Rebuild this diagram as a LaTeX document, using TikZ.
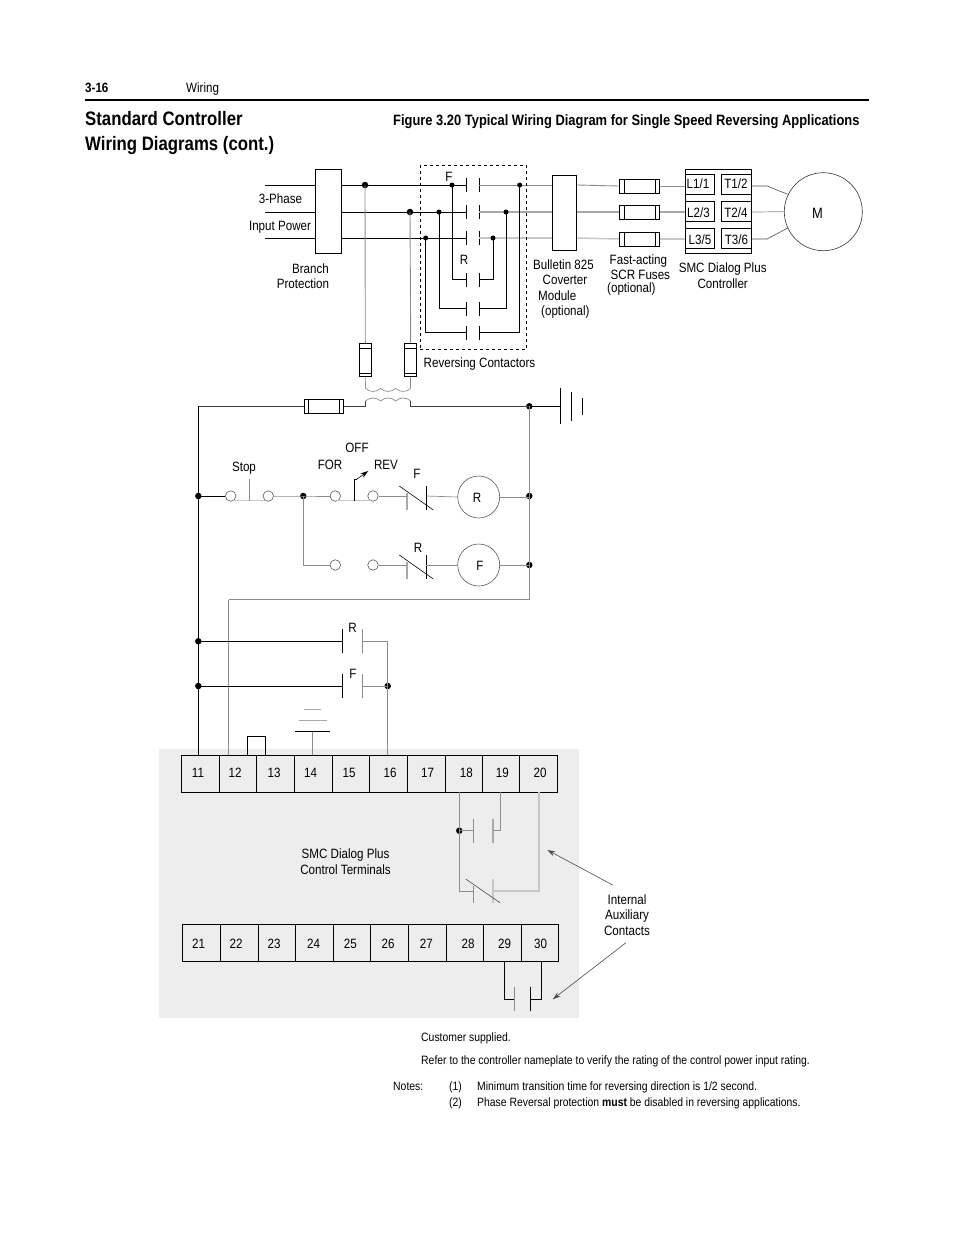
\documentclass[tikz,border=0pt]{standalone}
\usepackage{fontspec}
\setmainfont{Liberation Sans}[FakeStretch=0.86]
\usetikzlibrary{arrows.meta}
\definecolor{wirea}{gray}{0.55}
\definecolor{wireb}{gray}{0.66}
\definecolor{wirec}{gray}{0.78}
\definecolor{panel}{gray}{0.93}
\begin{document}
\begin{tikzpicture}[x=1pt,y=-1pt,line cap=butt,line join=miter,>={Stealth[length=8pt,width=5pt]},
	lbl/.style={inner sep=0pt,yshift=-.8pt,font=\fontsize{13.5}{15.5}\selectfont},
	lbc/.style={lbl,align=center},
	num/.style={inner sep=0pt,anchor=base,font=\fontsize{13.5}{15.5}\selectfont},
	small/.style={inner sep=0pt,anchor=base west,font=\fontsize{12.1}{14}\selectfont},
	dot/.style={circle,fill=black,inner sep=0pt,minimum size=6.5pt},
	box/.style={draw=black,line width=.9pt,inner sep=0pt,fill=white},
	coil/.style={circle,draw=black!65,line width=.6pt,minimum size=42pt,inner sep=0pt,fill=white},
	term/.style={circle,draw=black!65,line width=.6pt,minimum size=10.5pt,inner sep=0pt,fill=white},
	blk/.style={line width=.9pt,black},
	gra/.style={line width=.9pt,wirea},
	grb/.style={line width=1.2pt,wireb},
	grc/.style={line width=1.5pt,wirec},
	thin/.style={line width=.6pt,black!70}]
	\useasboundingbox (0,0) rectangle (954,1235);
	\fill[panel] (159,749) rectangle (579,1018);
	% page head
	\node[small,font=\fontsize{13.5}{15}\selectfont\bfseries] (page) at (85,92.5) {3-16};
	\node[small,font=\fontsize{13.5}{15}\selectfont] (chap) at (186,92.5) {Wiring};
	\draw[line width=1.6pt] (85,100) -- (869,100);
	\node[inner sep=0pt,anchor=base west,font=\fontsize{19.5}{24}\selectfont\bfseries] (titlea) at (85,125) {Standard Controller};
	\node[inner sep=0pt,anchor=base west,font=\fontsize{19.5}{24}\selectfont\bfseries] (titleb) at (85,150) {Wiring Diagrams (cont.)};
	\node[inner sep=0pt,anchor=base west,font=\fontsize{15}{17}\selectfont\bfseries] (fig) at (393,125) {Figure 3.20 Typical Wiring Diagram for Single Speed Reversing Applications};
	% power part
	\coordinate (in1) at (265,185);
	\coordinate (in2) at (265,212);
	\coordinate (in3) at (265,238);
	\node[box,minimum width=26.5pt,minimum height=84pt] (branch) at (328.5,211.3) {};
	\node[box,minimum width=24.5pt,minimum height=74.7pt] (module) at (564.5,212.6) {};
	\foreach \k/\y in {1/185,2/212,3/238}{
		\coordinate (cfa\k) at (466.7,\y);
		\coordinate (cfb\k) at (479.3,\y);
		\coordinate (mod\k) at (module.west |- cfa\k);
		\coordinate (bra\k) at (branch.east |- cfa\k);
		\coordinate (brb\k) at (branch.west |- cfa\k);
		\draw[blk] (in\k) -- (brb\k);
		\draw[blk] (bra\k) -- (cfa\k);
	}
	\foreach \k/\y in {1/279.5,2/308.5,3/332.5}{
		\coordinate (cra\k) at (466.7,\y);
		\coordinate (crb\k) at (479.3,\y);
	}
	\foreach \n in {cfa1,cfb1,cfa2,cfb2,cfa3,cfb3,cra1,crb1,cra2,crb2,cra3,crb3}{
		\draw[blk] ([yshift=-7pt]\n) -- ([yshift=7pt]\n);
	}
	\draw[gra] (cfb1) -- (mod1);
	\draw[grb] (cfb2) -- (mod2);
	\draw[grc] (cfb3) -- (mod3);
	\node[dot] (ja) at (365,185) {};
	\node[dot] (jb) at (410,212) {};
	\node[dot,minimum size=5pt] (fa) at (452,185) {};
	\node[dot,minimum size=5pt] (fb) at (439,212) {};
	\node[dot,minimum size=5pt] (fc) at (425.7,238) {};
	\node[dot,minimum size=5pt] (ra) at (519.7,185) {};
	\node[dot,minimum size=5pt] (rb) at (506,212) {};
	\node[dot,minimum size=5pt] (rc) at (493,238) {};
	\draw[blk] (fa.center) |- (cra1);
	\draw[blk] (fb.center) |- (cra2);
	\draw[blk] (fc.center) |- (cra3);
	\draw[blk] (rc.center) |- (crb1);
	\draw[blk] (rb.center) |- (crb2);
	\draw[blk] (ra.center) |- (crb3);
	\node[draw=black,dashed,line width=.6pt,inner sep=0pt,minimum width=106.4pt,minimum height=184pt] (rev) at (473.5,257.3) {};
	\node[lbl] (lf) at (449,176) {F};
	\node[lbl] (lr) at (464,259) {R};
	% fuses to the transformer
	\node[box,minimum width=12pt,minimum height=33.4pt] (fusa) at (365.3,360) {};
	\node[box,minimum width=12pt,minimum height=33.4pt] (fusb) at (410.7,360) {};
	\foreach \n in {fusa,fusb}{
		\draw[line width=.7pt] ([yshift=-5pt]\n.north west) -- ([yshift=-5pt]\n.north east);
		\draw[line width=.7pt] ([yshift=4pt]\n.south west) -- ([yshift=4pt]\n.south east);
	}
	\draw[gra] (ja.center) -- (fusa.north);
	\draw[gra] (jb.center) -- (fusb.north);
	\coordinate (ca) at (365.5,388.3);
	\coordinate (cb) at (410.7,388.3);
	\draw[gra,line width=.7pt] (fusa.south) -- (ca);
	\draw[gra,line width=.7pt] (fusb.south) -- (cb);
	\foreach \x in {365.5,380.6,395.6}{
		\draw[gra,line width=.7pt] (\x,388.3) .. controls (\x+4,392.5) and (\x+11,392.5) .. (\x+15.1,388.3);
		\draw[gra,line width=.7pt] (\x,401) .. controls (\x+4,397) and (\x+11,397) .. (\x+15.1,401);
	}
	\coordinate (left) at (198.3,406.3);
	\node[box,minimum width=39.7pt,minimum height=14pt] (fusc) at (323.8,406.3) {};
	\draw[line width=.7pt] ([xshift=5pt]fusc.north west) -- ([xshift=5pt]fusc.south west);
	\draw[line width=.7pt] ([xshift=-5pt]fusc.north east) -- ([xshift=-5pt]fusc.south east);
	\coordinate (cc) at (365.5,401);
	\coordinate (cd) at (410.7,401);
	\node[dot] (jr) at (529.3,406.3) {};
	\coordinate (gnd) at (560.3,406.3);
	\draw[line width=.7pt,black!75] (left) -- (fusc.west);
	\draw[line width=.7pt,black!75] (fusc.east) -| (cc);
	\draw[line width=.7pt,black!75] (cd) |- (jr.center);
	\draw[blk,line width=.8pt] (jr.center) -- (gnd);
	\draw[line width=.8pt] (560.3,388) -- (560.3,424);
	\draw[line width=.8pt] (571.3,392) -- (571.3,421);
	\draw[line width=.8pt] (582.3,398) -- (582.3,415);
	% labels power part
	\node[lbl] (l3p) at (280.5,198) {3-Phase};
	\node[lbl] (lin) at (280,226) {Input Power};
	\node[lbc,align=center] (lbp) at (303,275.5) {\hspace*{15pt}Branch\\Protection};
	\node[lbl] (lrc) at (479.5,363.5) {Reversing Contactors};
	\node[lbl,anchor=west] (b1) at (533,263.5) {Bulletin 825};
	\node[lbl,anchor=west] (b2) at (542.5,279) {Coverter};
	\node[lbl,anchor=west] (b3) at (538,295) {Module};
	\node[lbl,anchor=west] (b4) at (541,311) {(optional)};
	\node[lbl,anchor=west] (s1) at (609.5,260) {Fast-acting};
	\node[lbl,anchor=west] (s2) at (610.5,274) {SCR Fuses};
	\node[lbl,anchor=west] (s3) at (607,288) {(optional)};
	\node[lbc] (lsm) at (722.7,275) {SMC Dialog Plus\\Controller};
	% SCR fuses and controller
	\node[box,minimum width=66.4pt,minimum height=84pt] (smc) at (718.5,211.3) {};
	\foreach \k/\y/\ym/\ya/\yb in {1/185/186/174/194.7,2/212/212/201/221.7,3/238/239/228.3/248.3}{
		\node[box,minimum width=40.4pt,minimum height=14pt] (scr\k) at (639.5,\ym) {};
		\draw[line width=.7pt] ([xshift=5.4pt]scr\k.north west) -- ([xshift=5.4pt]scr\k.south west);
		\draw[line width=.7pt] ([xshift=-5pt]scr\k.north east) -- ([xshift=-5pt]scr\k.south east);
		\draw[line width=.8pt] (685.3,\ya) -| (714.7,\yb) -- (685.3,\yb);
		\draw[line width=.8pt] (751.7,\ya) -| (721.3,\yb) -- (751.7,\yb);
		\coordinate (lin\k) at (smc.west |- scr\k);
		\coordinate (tin\k) at (smc.east |- scr\k);
	}
	\draw[gra] (mod1 -| module.east) -- (scr1.west);
	\draw[grb] (mod2 -| module.east) -- (scr2.west);
	\draw[grc] (mod3 -| module.east) -- (scr3.west);
	\draw[gra] (scr1.east) -- (lin1);
	\draw[grb] (scr2.east) -- (lin2);
	\draw[grc] (scr3.east) -- (lin3);
	\node[circle,draw=black!80,line width=.6pt,minimum size=78pt,inner sep=0pt] (mot) at (823.3,211.7) {};
	\node[lbl,font=\fontsize{15}{17}\selectfont] (lm) at (817.5,212.5) {M};
	\draw[thin] (tin1) -- +(15,0) -- (787.7,194.3);
	\draw[gra,line width=.7pt] (tin2) -- (mot.west);
	\draw[thin] (tin3) -- +(15,0) -- (787.7,228);
	\foreach \t/\x/\y/\nm in {{L1/1}/698/183.3/tla,{T1/2}/736/183.3/tra,{L2/3}/698.5/211.5/tlb,{T2/4}/736/211.5/trb,{L3/5}/700/239/tlc,{T3/6}/736.5/239/trc}{
		\node[lbl] (\nm) at (\x,\y) {\t};
	}
	% control part
	\node[dot] (jl) at (198.3,496) {};
	\node[dot] (jrb) at (529.3,496) {};
	\node[dot] (jrc) at (529.3,565) {};
	\node[dot] (jm) at (303.3,496) {};
	\coordinate (jg) at (529.3,599.5);
	\coordinate (cg) at (228.7,599.5);
	\draw[blk] (left) -- (jl.center);
	\draw[gra] (jr.center) -- (jg);
	\draw[gra] (jg) -- (cg);
	\node[term] (sa) at (230.7,496) {};
	\node[term] (sb) at (268.3,496) {};
	\node[term] (fw) at (335.3,496) {};
	\node[term] (rv) at (373,496) {};
	\node[term] (fx) at (335.3,565) {};
	\node[term] (rx) at (373,565) {};
	\node[coil] (cr) at (478.7,497) {};
	\node[coil] (cf) at (478.7,565) {};
	\node[lbl] (lcr) at (477,497) {R};
	\node[lbl] (lcf) at (480,565) {F};
	\foreach \n/\y/\s/\c in {nca/496/F/cr,ncb/565/R/cf}{
		\coordinate (\n a) at (407,\y);
		\coordinate (\n b) at (426.3,\y);
		\draw[grb] ([yshift=3pt]\n a) -- ([yshift=-14pt]\n a);
		\draw[blk,line width=.7pt] ([yshift=10pt]\n b) -- ([yshift=-14pt]\n b);
		\draw[blk,line width=.6pt] ([shift={(-7.7,-10)}]\n a) -- ([shift={(7,14)}]\n b);
		\draw[gra,line width=.7pt] (\n b) -- (\c.west);
		\draw[gra,line width=.7pt] (\c.east) -- (\c.east -| jr);
	}
	\draw[blk] (jl.center) -- (sa.west);
	\draw[gra,line width=.7pt] (sb.east) -- (jm.center) -- (fw.west);
	\draw[gra,line width=.7pt] (rv.east) -- (ncaa);
	\draw[gra,line width=.7pt] (jm.center) |- (fx.west);
	\draw[gra,line width=.7pt] (rx.east) -- (ncba);
	\draw[grc] (233,500.7) -- (265,500.7);
	\draw[grc] (337,500.7) -- (371,500.7);
	\draw[gra,line width=.6pt] (249.3,500.7) -- (249.3,479.3);
	\coordinate (hnd) at (354,500.7);
	\coordinate (tip) at (368.3,471);
	\draw[blk,line width=.6pt] (hnd) -- (354,479) -- (357,479);
	\draw[blk,line width=.6pt,->] (357,479) -- (tip);
	\node[lbl] (lst) at (244,467.5) {Stop};
	\node[lbl] (lfo) at (330,464) {FOR};
	\node[lbl] (lof) at (357,447) {OFF};
	\node[lbl] (lre) at (386,464) {REV};
	\node[lbl] (lfa) at (417,473) {F};
	\node[lbl] (lra) at (418,547) {R};
	% seal-in contacts
	\node[dot] (sr) at (198.3,641.3) {};
	\node[dot] (sf) at (198.3,686) {};
	\node[dot] (se) at (387.7,686) {};
	\coordinate (tma) at (198.3,755.3);
	\coordinate (tmb) at (228.7,755.3);
	\coordinate (tmp) at (387.7,755.3);
	\draw[blk] (jl.center) -- (tma);
	\draw[gra,line width=1pt] (cg) -- (tmb);
	\foreach \n/\y/\o in {pr/641.3/sr,pf/686/sf}{
		\coordinate (\n a) at (342.3,\y);
		\coordinate (\n b) at (362.3,\y);
		\draw[blk] ([yshift=-12pt]\n a) -- ([yshift=12pt]\n a);
		\draw[gra] ([yshift=-12pt]\n b) -- ([yshift=12pt]\n b);
		\draw[blk] (\o.center) -- (\n a);
	}
	\draw[gra,line width=.7pt] (prb) -| (tmp);
	\draw[gra,line width=.7pt] (pfb) -- (se.center);
	\node[lbl] (lpr) at (352.5,627) {R};
	\node[lbl] (lpf) at (353,673.5) {F};
	\coordinate (ga) at (312.7,731.3);
	\coordinate (gb) at (312.7,755.3);
	\draw[gra,line width=.7pt] (ga) -- (gb);
	\draw[blk] (295,731.3) -- (330.3,731.3);
	\draw[wireb,line width=.8pt] (299,720) -- (326.7,720);
	\draw[wireb,line width=.8pt] (304,709) -- (320.7,709);
	\draw[line width=.9pt] (247.3,755.3) |- (265.7,736) -- (265.7,755.3);
	% terminals
	\foreach \n/\xa/\xb/\xl in {11/181.3/219.3/198,12/219.3/256.3/235,13/256.3/294.3/274,14/294.3/332.3/310.7,15/332.3/369.3/349,16/369.3/407.3/390,17/407.3/445.3/427.7,18/445.3/482.3/466.3,19/482.3/519.3/502.3,20/519.3/557.3/540}{
		\draw[line width=.9pt,fill=panel] (\xa,755.3) rectangle (\xb,792.3);
		\node[num] (n\n) at (\xl,777) {\n};
	}
	\foreach \n/\xa/\xb/\xl in {21/182.3/220.3/198.7,22/220.3/258.3/236,23/258.3/295.3/274,24/295.3/333.3/313.7,25/333.3/370.3/350.3,26/370.3/408.3/388,27/408.3/446.3/426.3,28/446.3/483.3/468,29/483.3/521.3/504.5,30/521.3/558.7/540.5}{
		\draw[line width=.9pt,fill=panel] (\xa,924.3) rectangle (\xb,961.3);
		\node[num] (n\n) at (\xl,948) {\n};
	}
	% internal contacts
	\node[dot] (ji) at (459.3,830.7) {};
	\coordinate (ka) at (473.3,830.7);
	\coordinate (kb) at (493,830.7);
	\coordinate (kc) at (473.3,891);
	\coordinate (kd) at (493,891);
	\draw[gra] (459.3,792.3) -- (ji.center) |- (kc);
	\draw[gra] (ji.center) -- (ka);
	\draw[gra] (kb) -| (500,792.3);
	\draw[grc] (kd) -| (539,792.3);
	\draw[gra] ([yshift=-12pt]ka) -- ([yshift=12pt]ka);
	\draw[grb] ([yshift=-12pt]kb) -- ([yshift=12pt]kb);
	\draw[gra] ([yshift=5pt]kc) -- ([yshift=-12pt]kc);
	\draw[grc] ([yshift=-12pt]kd) -- ([yshift=12pt]kd);
	\draw[thin] (465.7,879) -- (500,902.7);
	\coordinate (cnb) at (514.3,999.3);
	\coordinate (cnc) at (530.7,999.3);
	\draw[blk] (504.7,961.3) |- (cnb);
	\draw[blk] (541.3,961.3) |- (cnc);
	\draw[gra] ([yshift=-12pt]cnb) -- ([yshift=12pt]cnb);
	\draw[blk] ([yshift=-12pt]cnc) -- ([yshift=12pt]cnc);
	\node[lbc] (laux) at (627,914) {Internal\\Auxiliary\\Contacts};
	\coordinate (aa) at (612.7,885);
	\coordinate (ab) at (547.3,850);
	\coordinate (ac) at (626,942.7);
	\coordinate (ad) at (552.7,999.3);
	\draw[thin,->] (aa) -- (ab);
	\draw[thin,->] (ac) -- (ad);
	\node[lbc] (lterm) at (345.5,861) {SMC Dialog Plus\\Control Terminals};
	% notes
	\node[small] (na) at (421,1041.7) {Customer supplied.};
	\node[small] (nb) at (421,1064) {Refer to the controller nameplate to verify the rating of the control power input rating.};
	\node[small] (nc) at (393,1090) {Notes:};
	\node[small] (nd) at (449,1090) {(1)};
	\node[small] (ne) at (477,1090) {Minimum transition time for reversing direction is 1/2 second.};
	\node[small] (nf) at (449,1106) {(2)};
	\node[small] (ng) at (477,1106) {Phase Reversal protection \textbf{must} be disabled in reversing applications.};
\end{tikzpicture}
\end{document}
